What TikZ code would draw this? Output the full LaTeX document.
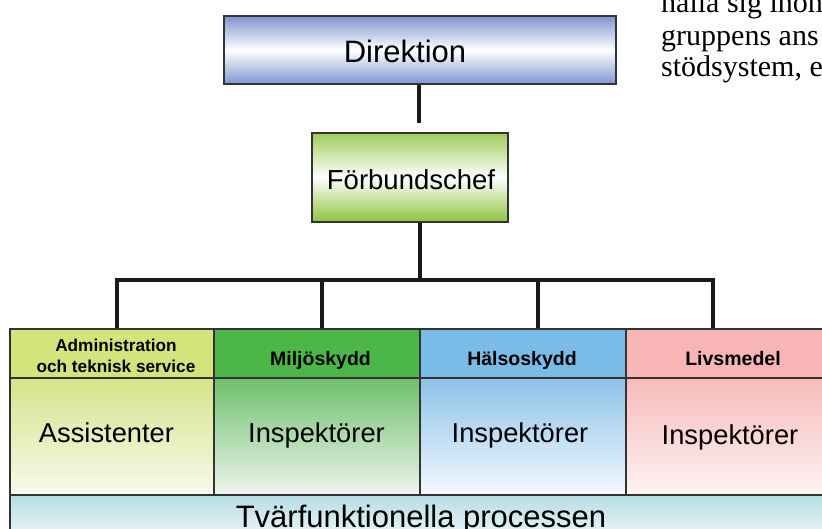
\documentclass[tikz,border=0pt]{standalone}
\usepackage{fontspec}
\setmainfont{Liberation Sans}
\newfontfamily\pageserif{Liberation Serif}
\begin{document}
\begin{tikzpicture}[x=1pt,y=-1pt,
  conn/.style={line width=4pt, draw=black!90},
  frame/.style={draw=black!80, line width=1.3pt, inner sep=0pt},
  lbl/.style={anchor=base, inner sep=0pt},
  hdr/.style={lbl, font=\bfseries\fontsize{19.5}{22}\selectfont},
  admtxt/.style={lbl, font=\bfseries\fontsize{17.2}{20}\selectfont},
  bodytxt/.style={lbl, font=\fontsize{27.3}{32}\selectfont},
  serifline/.style={anchor=base west, inner sep=0pt, font=\pageserif\fontsize{30}{31}\selectfont}
]
\definecolor{dirblue}{HTML}{7F95CF}
\definecolor{fbgreen}{HTML}{8EC33E}
\definecolor{adminH}{HTML}{D4E37C}
\definecolor{adminT}{HTML}{D6E28A}
\definecolor{adminB}{HTML}{FAFAEE}
\definecolor{miljoH}{HTML}{4CB748}
\definecolor{miljoT}{HTML}{6EC06C}
\definecolor{miljoB}{HTML}{EFF5EE}
\definecolor{halsoH}{HTML}{7BBBE7}
\definecolor{halsoT}{HTML}{8EC3EA}
\definecolor{halsoB}{HTML}{F3F8FD}
\definecolor{livsH}{HTML}{F7B5B5}
\definecolor{livsT}{HTML}{F7BBBB}
\definecolor{livsB}{HTML}{FDF3F3}
\definecolor{tvarT}{HTML}{B5DCE2}
\definecolor{tvarB}{HTML}{F7FCFD}

\useasboundingbox (0,0) rectangle (822,529);
\clip (0,0) rectangle (822,529);
\fill[white] (0,0) rectangle (822,529);

% page text at top right
\node[serifline] (p1) at (661,13) {hålla sig inom};
\node[serifline] (p2) at (661,46) {gruppens ans};
\node[serifline] (p3) at (661,77) {stödsystem, e};

% Direktion
\node[frame, minimum width=392pt, minimum height=68pt,
  top color=dirblue, bottom color=dirblue, middle color=white] (dir) at (420,50) {};
\node[lbl, font=\fontsize{31}{36}\selectfont] (dirtxt) at (405,63) {Direktion};

% Förbundschef
\node[frame, minimum width=196pt, minimum height=89pt,
  top color=fbgreen!85!white, bottom color=fbgreen, middle color=white] (fb) at (410,177.5) {};
\node[lbl, font=\fontsize{27.5}{32}\selectfont] (fbtxt) at (411,190) {Förbundschef};

% column bodies
\node[frame, minimum width=204pt, minimum height=117pt, top color=adminT, bottom color=adminB] (aB) at (112,436.5) {};
\node[frame, minimum width=206pt, minimum height=117pt, top color=miljoT, bottom color=miljoB] (mB) at (317,436.5) {};
\node[frame, minimum width=206pt, minimum height=117pt, top color=halsoT, bottom color=halsoB] (hB) at (523,436.5) {};
\node[frame, minimum width=210pt, minimum height=117pt, top color=livsT, bottom color=livsB] (lB) at (731,436.5) {};

% column headers
\node[frame, minimum width=204pt, minimum height=49pt, fill=adminH] (aH) at (112,353.5) {};
\node[frame, minimum width=206pt, minimum height=49pt, fill=miljoH] (mH) at (317,353.5) {};
\node[frame, minimum width=206pt, minimum height=49pt, fill=halsoH] (hH) at (523,353.5) {};
\node[frame, minimum width=210pt, minimum height=49pt, fill=livsH] (lH) at (731,353.5) {};

% cross-functional bar
\node[frame, minimum width=826pt, minimum height=50pt, top color=tvarT, bottom color=tvarB] (tv) at (423,520) {};

% header texts
\node[admtxt] (aH1) at (116,352) {Administration};
\node[admtxt] (aH2) at (116,372) {och teknisk service};
\node[hdr] (mHt) at (320.5,365) {Miljöskydd};
\node[hdr] (hHt) at (522,365) {Hälsoskydd};
\node[hdr] (lHt) at (733,365) {Livsmedel};

% body texts
\node[bodytxt] (aBt) at (106.5,442) {Assistenter};
\node[bodytxt] (mBt) at (316.5,442) {Inspektörer};
\node[bodytxt] (hBt) at (520,442) {Inspektörer};
\node[bodytxt] (lBt) at (730,444) {Inspektörer};

\node[lbl, font=\fontsize{31}{36}\selectfont] (tvt) at (421,527) {Tvärfunktionella processen};

% connectors
\coordinate (dirEnd) at (419,123);
\draw[conn] (dir.south -| dirEnd) -- (dirEnd);

\coordinate (hub) at (420,280);
\coordinate (d1) at (117,280);
\coordinate (d2) at (322,280);
\coordinate (d3) at (538,280);
\coordinate (d4) at (713,280);
\draw[conn] (fb.south -| hub) -- (hub);
\draw[conn] (d1 |- aH.north) -- (d1) -- (d4) -- (d4 |- lH.north);
\draw[conn] (d2) -- (d2 |- mH.north);
\draw[conn] (d3) -- (d3 |- hH.north);
\end{tikzpicture}
\end{document}
